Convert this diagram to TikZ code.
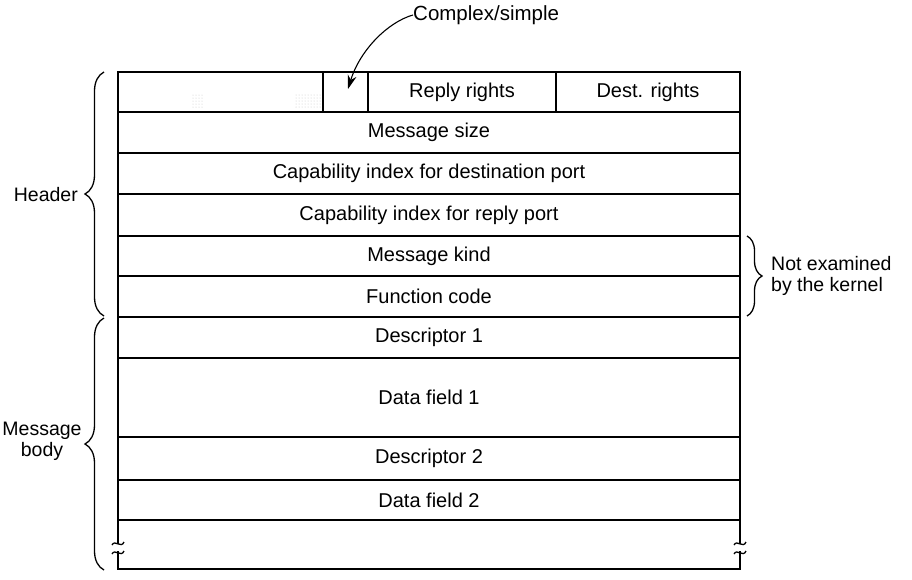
\documentclass[tikz,border=0pt]{standalone}
\usepackage{fontspec}
\setmainfont{Liberation Sans}
\usetikzlibrary{arrows.meta,decorations.pathreplacing}
\tikzset{
  rowbox/.style={draw, line width=1.2pt, minimum width=622pt, inner sep=0pt, font=\fontsize{20}{22}\selectfont},
  cellbox/.style={draw, line width=1.2pt, minimum height=40pt, inner sep=0pt, font=\fontsize{20}{22}\selectfont},
  frame/.style={line width=2.2pt, line cap=rect},
  breakmark/.style={line width=1.3pt},
  bracestyle/.style={line width=1.3pt, decorate, decoration={brace, amplitude=#1}},
  sidelabel/.style={font=\fontsize{19.5}{21}\selectfont, inner sep=0pt},
  stip/.style={fill=gray!45}
}
\begin{document}
\begin{tikzpicture}[x=1pt,y=-1pt]
\useasboundingbox (0,0) rectangle (912,579);
% top row cells
\node[cellbox, minimum width=205pt] (c0) at (220.5,92) {};
\node[cellbox, minimum width=45pt] (c1) at (345.5,92) {};
\node[cellbox, minimum width=188pt] (c2) at (462,92) {Reply rights};
\node[cellbox, minimum width=184pt] (c3) at (648,92) {Dest. rights};
% stipple in left cell
\foreach \x in {193,196,...,202} \foreach \y in {95,98,...,109} \fill[stip] (\x,\y) circle (0.5pt);
\foreach \x in {296,299,...,320} \foreach \y in {95,98,...,109} \fill[stip] (\x,\y) circle (0.5pt);
% rows
\node[rowbox, minimum height=41pt] (ms) at (429,132.5) {Message size};
\node[rowbox, minimum height=41pt] (cdp) at (429,173.5) {Capability index for destination port};
\node[rowbox, minimum height=42pt] (crp) at (429,215) {Capability index for reply port};
\node[rowbox, minimum height=40pt] (mk) at (429,256) {Message kind};
\node[rowbox, minimum height=41pt] (fc) at (429,296.5) {Function code};
\node[rowbox, minimum height=41pt] (d1) at (429,337.5) {Descriptor 1};
\node[rowbox, minimum height=79pt] (df1) at (429,397.5) {Data field 1};
\node[rowbox, minimum height=43pt] (d2) at (429,458.5) {Descriptor 2};
\node[rowbox, minimum height=40pt] (df2) at (429,500) {Data field 2};
% outer frame with breaks
\draw[frame] (118,543) -- (118,72) -- (740,72) -- (740,543);
\draw[frame] (118,552) -- (118,569) -- (740,569) -- (740,552);
% break marks
\draw[breakmark] (112,545) .. controls (115,539) and (121,549) .. (124,542);
\draw[breakmark] (112,554) .. controls (115,548) and (121,558) .. (124,551);
\draw[breakmark] (734,545) .. controls (737,539) and (743,549) .. (746,542);
\draw[breakmark] (734,554) .. controls (737,548) and (743,558) .. (746,551);
% braces
\coordinate (hb1) at (104,316);
\coordinate (hb2) at (104,72);
\draw[bracestyle=19pt] (hb1) -- (hb2);
\coordinate (bb1) at (104,570);
\coordinate (bb2) at (104,318);
\draw[bracestyle=19pt] (bb1) -- (bb2);
\coordinate (rb1) at (747,236);
\coordinate (rb2) at (747,316);
\draw[bracestyle=15pt] (rb1) -- (rb2);
% labels
\node[sidelabel, anchor=east] (hdr) at (78,195) {Header};
\node[sidelabel, align=center] (body) at (42,441) {Message\\body};
\node[sidelabel, align=left, anchor=west] (nek) at (771,276) {Not examined\\by the kernel};
\node[sidelabel, anchor=west, font=\fontsize{20.5}{22}\selectfont] (cs) at (413,15) {Complex/simple};
% arrow
\coordinate (tip) at (348,89);
\draw[line width=1.1pt, -{Stealth[length=14pt,width=9pt]}] (cs.west) .. controls (388,22) and (360,50) .. (tip);
\end{tikzpicture}
\end{document}
